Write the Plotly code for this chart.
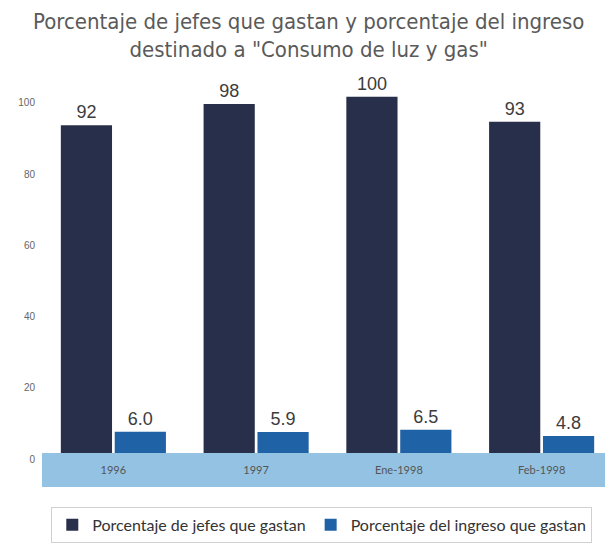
import plotly.graph_objects as go

categories = ["1996", "1997", "Ene-1998", "Feb-1998"]
jefes = [92, 98, 100, 93]
ingreso = [6.0, 5.9, 6.5, 4.8]
jefes_text = ["92", "98", "100", "93"]
ingreso_text = ["6.0", "5.9", "6.5", "4.8"]
y_ticks = [0, 20, 40, 60, 80, 100]

DARK = "#282f4a"
BLUE = "#1f62a6"
BAND = "#93c2e2"
LABEL_FONT = "Lato, 'Noto Sans', sans-serif"
VAL_FONT = dict(family="Liberation Sans, Arial, sans-serif", size=18, color="#3c3c3c")

fig = go.Figure()
fig.add_trace(go.Bar(
    x=categories, y=jefes, name="Porcentaje de jefes que gastan",
    marker=dict(color=DARK, line=dict(width=0)),
    text=jefes_text, textposition="outside", textfont=VAL_FONT,
    cliponaxis=False,
))
fig.add_trace(go.Bar(
    x=categories, y=ingreso, name="Porcentaje del ingreso que gastan",
    marker=dict(color=BLUE, line=dict(width=0)),
    text=ingreso_text, textposition="outside", textfont=VAL_FONT,
    cliponaxis=False,
))

# page body adds an 8px offset, so the figure is 605x542
fig.update_layout(
    width=605, height=542,
    paper_bgcolor="white", plot_bgcolor="white",
    margin=dict(l=34, r=0, t=71, b=97, autoexpand=False),
    barmode="group", bargap=0.245, bargroupgap=0.05,
    title=dict(
        text="Porcentaje de jefes que gastan y porcentaje del ingreso<br>destinado a \"Consumo de luz y gas\"",
        x=0.497, xanchor="center", xref="container",
        y=0.962, yanchor="top", yref="container",
        font=dict(family="'DejaVu Sans Condensed', sans-serif", size=22, color="#5a5a5a"),
    ),
    xaxis=dict(
        showgrid=False, showline=False, zeroline=False, ticks="",
        tickfont=dict(family=LABEL_FONT, size=11, color="#555555"),
        ticklabelstandoff=9, automargin=False,
    ),
    yaxis=dict(
        range=[0, 105], tickvals=y_ticks, showgrid=False, showline=False, zeroline=False,
        ticks="", tickfont=dict(family="Liberation Sans, Arial, sans-serif", size=10, color="#666666"),
        ticklabelstandoff=6, ticklabelshift=6, automargin=False,
    ),
    legend=dict(
        orientation="h", x=0.49, xanchor="center", y=-0.144, yanchor="top",
        bordercolor="#d0d0d0", borderwidth=1,
        font=dict(family=LABEL_FONT, size=16, color="#333333"),
        traceorder="normal",
    ),
    shapes=[dict(
        type="rect", xref="paper", yref="paper", x0=0, x1=1.0, y0=-0.091, y1=0,
        fillcolor=BAND, line=dict(width=0), layer="below",
    )],
)

fig.write_html("out.html")
